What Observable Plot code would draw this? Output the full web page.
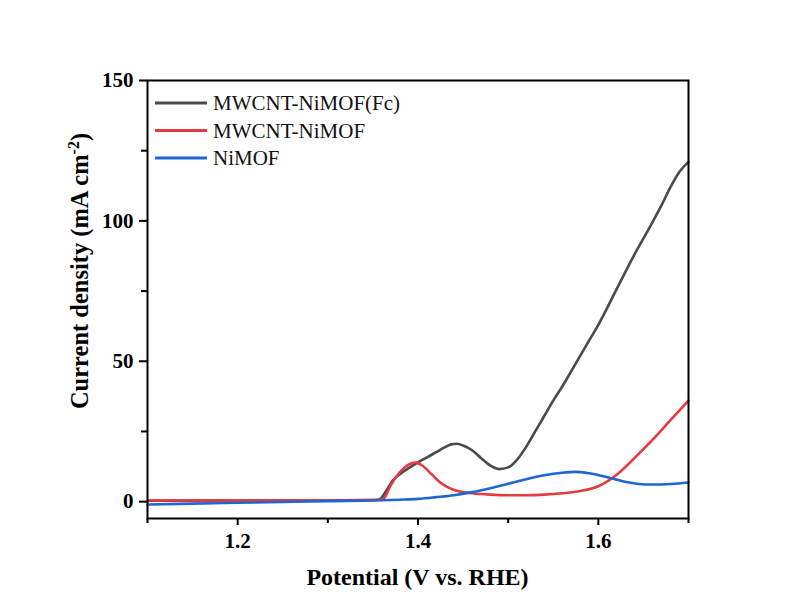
<!DOCTYPE html>
<html>
<head>
<meta charset="utf-8">
<script src="https://cdn.jsdelivr.net/npm/d3@7"></script>
<script src="https://cdn.jsdelivr.net/npm/@observablehq/plot@0.6"></script>
<style>
  html, body { margin: 0; padding: 0; background: #ffffff; }
  #chart { width: 785px; height: 610px; }
</style>
</head>
<body>
<div id="chart"></div>
<script>
// ---- Data ----
const seriesNames = ["MWCNT-NiMOF(Fc)", "MWCNT-NiMOF", "NiMOF"];
const seriesColors = ["#4a4a4a", "#e63a3f", "#1f66d3"];

const fcPotential = [1.10,1.20,1.30,1.35,1.357,1.365,1.372,1.38,1.39,1.40,1.41,1.42,1.43,1.437,1.443,1.45,1.46,1.47,1.48,1.49,1.50,1.51,1.52,1.53,1.54,1.55,1.56,1.57,1.58,1.59,1.60,1.62,1.64,1.66,1.67,1.68,1.69,1.70];
const fcCurrent   = [0.3,0.4,0.5,0.6,0.8,4.0,7.5,9.8,12.0,14.0,15.8,17.6,19.4,20.4,20.6,20.0,18.3,15.5,12.9,11.6,12.2,15.0,19.5,25.0,30.5,36.0,41.0,46.5,52.0,57.5,63.0,75.5,88.0,99.5,105.5,112.0,117.5,121.0];

const mwPotential = [1.10,1.20,1.30,1.36,1.363,1.37,1.38,1.39,1.397,1.405,1.415,1.425,1.435,1.445,1.46,1.48,1.50,1.52,1.54,1.56,1.58,1.60,1.62,1.64,1.66,1.68,1.70];
const mwCurrent   = [0.4,0.4,0.5,0.7,1.5,6.0,10.5,13.3,13.9,12.8,9.8,6.7,4.8,3.7,3.0,2.5,2.3,2.3,2.5,3.0,3.8,5.5,9.5,15.5,22.0,29.0,36.0];

const niPotential = [1.10,1.15,1.20,1.25,1.30,1.35,1.38,1.40,1.42,1.44,1.46,1.48,1.50,1.52,1.54,1.56,1.575,1.59,1.61,1.63,1.645,1.66,1.68,1.70];
const niCurrent   = [-1.0,-0.7,-0.4,-0.1,0.2,0.4,0.7,1.0,1.6,2.3,3.4,4.8,6.4,8.0,9.4,10.3,10.6,10.1,8.7,7.1,6.3,6.1,6.3,6.8];

const xMajorTicks = [1.2, 1.4, 1.6];
const xMinorTicks = [1.1, 1.3, 1.5, 1.7];
const yMajorTicks = [0, 50, 100, 150];
const yMinorTicks = [25, 75, 125];
const xLabel = "Potential (V vs. RHE)";
const yLabelMain = "Current density (mA cm";
const yLabelSup = "-2";
const yLabelEnd = ")";

// ---- Build table ----
function toRows(name, xs, ys) { return xs.map((x, i) => ({series: name, x, y: ys[i]})); }
const rows = [
  ...toRows(seriesNames[0], fcPotential, fcCurrent),
  ...toRows(seriesNames[1], mwPotential, mwCurrent),
  ...toRows(seriesNames[2], niPotential, niCurrent)
];

const W = 785, H = 610;
const mL = 147, mR = 97, mT = 80, mB = 92;
const serif = "'Liberation Serif', 'Times New Roman', serif";

const plot = Plot.plot({
  width: W, height: H,
  marginLeft: mL, marginRight: mR, marginTop: mT, marginBottom: mB,
  style: {fontFamily: serif, fontSize: "21px", fontWeight: "bold", color: "#000", background: "transparent"},
  x: {domain: [1.1, 1.7]},
  y: {domain: [-6, 150]},
  color: {domain: seriesNames, range: seriesColors},
  marks: [
    Plot.axisX(xMajorTicks, {tickSize: 7, tickPadding: 8, strokeWidth: 2, tickFormat: d => d.toFixed(1), label: null, fontSize: 21, fontWeight: "bold"}),
    Plot.axisX(xMinorTicks, {tickSize: 5, strokeWidth: 2, tickFormat: () => "", label: null}),
    Plot.axisY(yMajorTicks, {tickSize: 8, tickPadding: 6, strokeWidth: 2, label: null, fontSize: 21, fontWeight: "bold"}),
    Plot.axisY(yMinorTicks, {tickSize: 6, strokeWidth: 2, tickFormat: () => "", label: null}),
    Plot.line(rows, {x: "x", y: "y", z: "series", stroke: "series", strokeWidth: 2.6, curve: "monotone-x"}),
    Plot.frame({stroke: "#000", strokeWidth: 2})
  ]
});

document.getElementById("chart").appendChild(plot);

// ---- Titles and legend ----
const svg = d3.select(plot);
const plotLeft = mL, plotRight = W - mR, plotTop = mT, plotBottom = H - mB;

svg.append("text")
  .attr("x", (plotLeft + plotRight) / 2)
  .attr("y", plotBottom + 67)
  .attr("text-anchor", "middle")
  .attr("font-family", serif).attr("font-weight", "bold").attr("font-size", 24)
  .attr("fill", "#000")
  .text(xLabel);

const yt = svg.append("text")
  .attr("transform", `translate(${plotLeft - 59},${(plotTop + plotBottom) / 2 - 28}) rotate(-90)`)
  .attr("text-anchor", "middle")
  .attr("font-family", serif).attr("font-weight", "bold").attr("font-size", 24.5)
  .attr("fill", "#000");
yt.append("tspan").text(yLabelMain);
yt.append("tspan").attr("dy", -9).attr("font-size", 16).text(yLabelSup);
yt.append("tspan").attr("dy", 9).text(yLabelEnd);

const lg = svg.append("g");
seriesNames.forEach((name, i) => {
  const y0 = plotTop + 23 + i * 27.5;
  lg.append("line").attr("x1", plotLeft + 8).attr("x2", plotLeft + 60)
    .attr("y1", y0).attr("y2", y0)
    .attr("stroke", seriesColors[i]).attr("stroke-width", 2.8);
  lg.append("text").attr("x", plotLeft + 66).attr("y", y0 + 7)
    .attr("text-anchor", "start")
    .attr("font-family", serif).attr("font-weight", "normal").attr("font-size", 21)
    .attr("fill", "#111").text(name);
});
</script>
</body>
</html>
